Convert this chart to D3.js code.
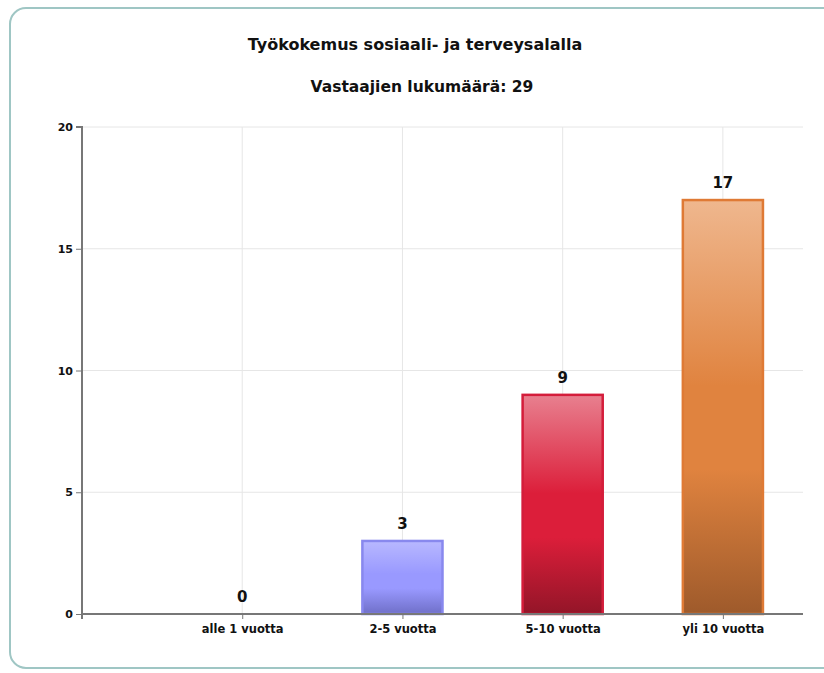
<head>
    <script src="https://d3js.org/d3.v7.min.js"></script>
    <style>
        body { margin: 0; background: #fff; }
        text { font-family: "DejaVu Sans", Verdana, sans-serif; font-weight: bold; fill: #111; }
        .grid line { stroke: #e6e6e6; }
    </style>
</head>
<body>
    <svg id="plot" width="824" height="673"></svg>
    <script>
        // data
        const categories = ["alle 1 vuotta", "2-5 vuotta", "5-10 vuotta", "yli 10 vuotta"];
        const counts = [0, 3, 9, 17];
        const yTicks = [0, 5, 10, 15, 20];
        const title = "Työkokemus sosiaali- ja terveysalalla";
        const subtitle = "Vastaajien lukumäärä: 29";

        // colours per bar: [top, middle, bottom, stroke]
        const barColors = [
            ["#b8b8ff", "#9999ff", "#6f6fc8", "#8888ee"],
            ["#b8b8ff", "#9999ff", "#6f6fc8", "#8888ee"],
            ["#e8808f", "#dc1e3a", "#931528", "#d41d3b"],
            ["#efb78e", "#e0833f", "#9e5a2b", "#df7a35"]
        ];

        const svg = d3.select("svg#plot");
        const plotLeft = 82, plotRight = 803, plotTop = 127, plotBottom = 614;

        // frame
        svg.append("rect")
            .attr("x", 10).attr("y", 8)
            .attr("width", 830).attr("height", 660)
            .attr("rx", 16)
            .attr("fill", "white")
            .attr("stroke", "#9fc6c4")
            .attr("stroke-width", 2);

        svg.append("text").attr("x", 415).attr("y", 50)
            .attr("text-anchor", "middle").style("font-size", "16px")
            .text(title);
        svg.append("text").attr("x", 422).attr("y", 92)
            .attr("text-anchor", "middle").style("font-size", "15.5px")
            .text(subtitle);

        const y = d3.scaleLinear().domain([0, 20]).range([plotBottom, plotTop]);
        const x = d3.scaleLinear().domain([0, 4.5]).range([plotLeft, plotRight]);
        const barW = x(0.5) - x(0);

        const bars = categories.map((c, i) => ({cat: c, value: counts[i], i: i}));

        // gradients
        const defs = svg.append("defs");
        barColors.forEach((c, i) => {
            const g = defs.append("linearGradient").attr("id", "grad" + i)
                .attr("x1", 0).attr("y1", 0).attr("x2", 0).attr("y2", 1);
            g.append("stop").attr("offset", "0%").attr("stop-color", c[0]);
            g.append("stop").attr("offset", "45%").attr("stop-color", c[1]);
            g.append("stop").attr("offset", "65%").attr("stop-color", c[1]);
            g.append("stop").attr("offset", "100%").attr("stop-color", c[2]);
        });

        // gridlines
        svg.append("g").attr("class", "grid")
            .selectAll("line").data(yTicks.filter(d => d > 0)).enter()
            .append("line")
            .attr("x1", plotLeft).attr("x2", plotRight)
            .attr("y1", d => y(d)).attr("y2", d => y(d));
        svg.append("g").attr("class", "grid")
            .selectAll("line").data(bars).enter()
            .append("line")
            .attr("x1", d => x(d.i + 1)).attr("x2", d => x(d.i + 1))
            .attr("y1", plotTop).attr("y2", plotBottom);

        // bars
        svg.append("g").selectAll("rect").data(bars.filter(d => d.value > 0)).enter()
            .append("rect")
            .attr("x", d => x(d.i + 1) - barW / 2)
            .attr("y", d => y(d.value))
            .attr("width", barW)
            .attr("height", d => y(0) - y(d.value))
            .attr("fill", d => "url(#grad" + d.i + ")")
            .attr("stroke", d => barColors[d.i][3])
            .attr("stroke-width", 2.5);

        // value labels
        svg.append("g").selectAll("text").data(bars).enter()
            .append("text")
            .attr("x", d => x(d.i + 1))
            .attr("y", d => y(d.value) - 12)
            .attr("text-anchor", "middle")
            .style("font-size", "15px")
            .text(d => d.value);

        // axes
        const yAxis = svg.append("g").attr("transform", `translate(${plotLeft},0)`)
            .call(d3.axisLeft(y).tickValues(yTicks).tickSize(6).tickPadding(3));
        const xAxis = svg.append("g").attr("transform", `translate(0,${plotBottom})`)
            .call(d3.axisBottom(x).tickValues([1, 2, 3, 4]).tickSize(5).tickPadding(6)
                .tickFormat(d => categories[d - 1]));
        [yAxis, xAxis].forEach(a => {
            a.select(".domain").attr("stroke", "#777").attr("stroke-width", 2);
            a.selectAll(".tick line").attr("stroke", "#777");
            a.selectAll("text").attr("fill", "#222");
        });
        yAxis.selectAll("text").style("font-size", "11px");
        xAxis.selectAll("text").style("font-size", "11.5px");
        xAxis.select(".domain").attr("d", `M${plotLeft},0H${plotRight}`);
        yAxis.select(".domain").attr("d", `M0,${plotBottom + 5}V${plotTop}H-6`);
    </script>
</body>
